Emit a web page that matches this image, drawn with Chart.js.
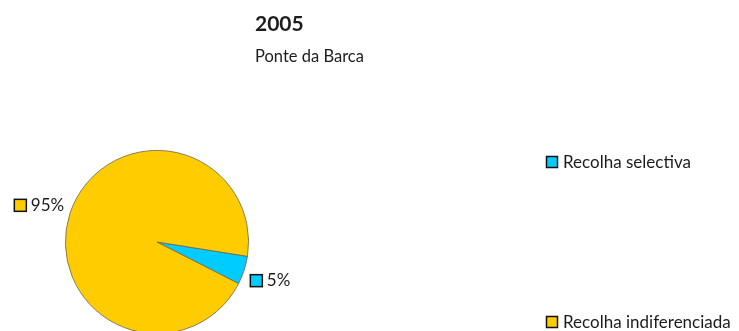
<!DOCTYPE html>
<html>
<head>
<meta charset="utf-8">
<script src="https://cdn.jsdelivr.net/npm/chart.js@4"></script>
<style>
  html, body { margin: 0; padding: 0; background: #fff; }
  #wrap { width: 739px; height: 331px; overflow: hidden; position: relative; }
  #wrap canvas { display: block; }
</style>
</head>
<body>
<div id="wrap"><canvas id="c" width="739" height="360"></canvas></div>
<script>
// Waste collection split, Ponte da Barca, 2005
const year = '2005';
const place = 'Ponte da Barca';
const categories = ['Recolha selectiva', 'Recolha indiferenciada'];
const shares = [5, 95];
const sliceColors = ['#00CCFF', '#FFCC00'];

const FONT = 'Lato, "Open Sans", sans-serif';
const INK = '#1c1c1c';

// Draws the heading, the percentage callouts beside each slice and the legend
const annotate = {
  id: 'annotate',
  afterDatasetsDraw(chart) {
    const ctx = chart.ctx;
    ctx.save();
    ctx.fillStyle = INK;
    ctx.textBaseline = 'alphabetic';
    ctx.textAlign = 'left';

    ctx.font = 'bold 21px ' + FONT;
    ctx.fillText(year, 255, 31);
    ctx.font = '16.5px ' + FONT;
    ctx.fillText(place, 255, 62);

    const meta = chart.getDatasetMeta(0);
    const data = chart.data.datasets[0].data;
    const total = data.reduce((a, b) => a + b, 0);
    const sq = 12;
    ctx.font = '17px ' + FONT;
    meta.data.forEach((arc, i) => {
      const p = arc.getProps(['x', 'y', 'startAngle', 'endAngle', 'outerRadius'], true);
      const mid = (p.startAngle + p.endAngle) / 2;
      const r = p.outerRadius + 6;
      const ax = p.x + Math.cos(mid) * r;
      const ay = p.y + Math.sin(mid) * r;
      const txt = Math.round(data[i] / total * 100) + '%';
      const tw = ctx.measureText(txt).width;
      const w = sq + 5 + tw;
      const h = 14;
      const left = Math.cos(mid) >= 0 ? ax : ax - w;
      const top = Math.sin(mid) >= 0 ? ay + 2 : ay - h + 1;
      ctx.fillStyle = sliceColors[i];
      ctx.fillRect(left + 0.5, top + 0.5, sq, sq);
      ctx.strokeStyle = '#111';
      ctx.lineWidth = 1.5;
      ctx.strokeRect(left + 0.5, top + 0.5, sq, sq);
      ctx.fillStyle = INK;
      ctx.fillText(txt, left + sq + 5, top + sq);
    });

    // legend
    const legendY = [163, 323];
    ctx.font = '17px ' + FONT;
    ctx.textBaseline = 'middle';
    chart.data.labels.forEach((lab, i) => {
      const y = legendY[i];
      ctx.fillStyle = sliceColors[i];
      ctx.fillRect(546.5, y - 6.5, 11, 11);
      ctx.strokeStyle = '#111';
      ctx.lineWidth = 1.5;
      ctx.strokeRect(546.5, y - 6.5, 11, 11);
      ctx.fillStyle = INK;
      ctx.fillText(lab, 563, y);
    });
    ctx.restore();
  }
};

new Chart(document.getElementById('c'), {
  type: 'pie',
  data: {
    labels: categories,
    datasets: [{
      data: shares,
      backgroundColor: sliceColors,
      borderColor: '#6b6450',
      borderWidth: 0.8
    }]
  },
  options: {
    responsive: false,
    animation: false,
    rotation: 99,
    layout: { padding: { left: 65, right: 490, top: 150, bottom: 26 } },
    plugins: {
      legend: { display: false },
      title: { display: false },
      tooltip: { enabled: false }
    }
  },
  plugins: [annotate]
});
</script>
</body>
</html>
